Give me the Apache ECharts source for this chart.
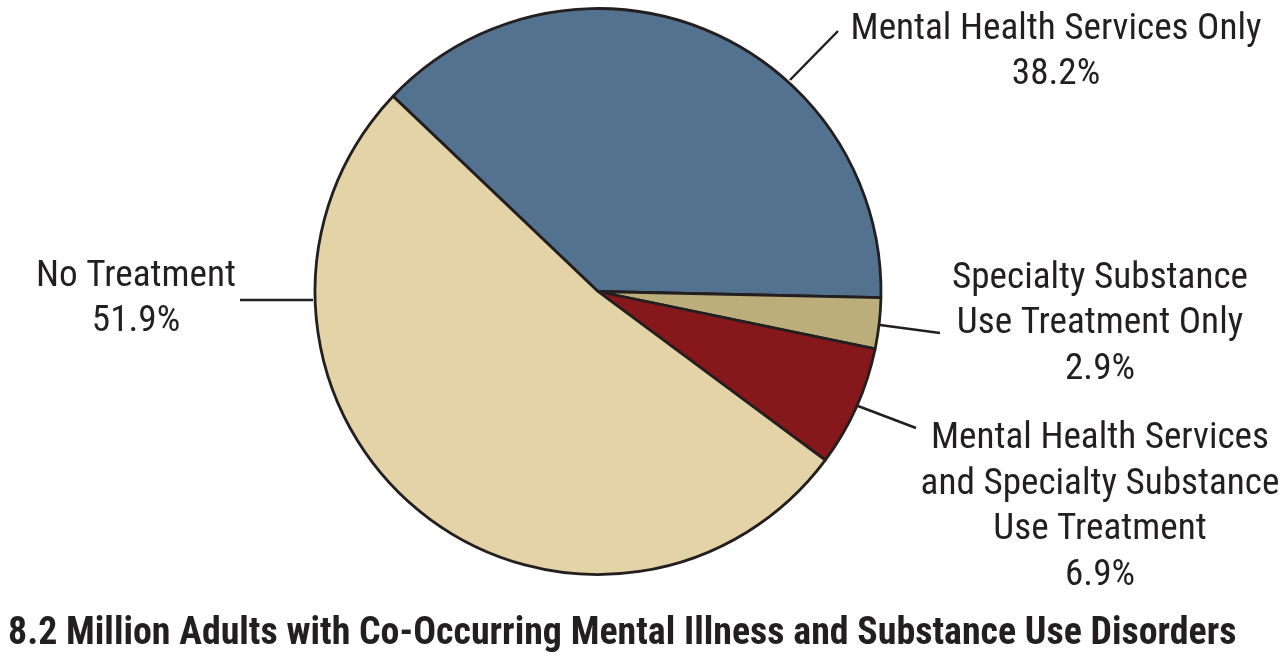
<!DOCTYPE html>
<html>
<head>
<meta charset="utf-8">
<style>
  html, body { margin: 0; padding: 0; background: #ffffff; }
  #chart { width: 1287px; height: 659px; }
</style>
<script src="https://cdn.jsdelivr.net/npm/echarts@6/dist/echarts.min.js"></script>
</head>
<body>
<div id="chart"></div>
<script>
// ---- data ----
const categories = [
  'Mental Health Services Only',
  'Specialty Substance\nUse Treatment Only',
  'Mental Health Services\nand Specialty Substance\nUse Treatment',
  'No Treatment'
];
const values = [38.2, 2.9, 6.9, 51.9];
const colors = ['#52728f', '#bcae7a', '#86181c', '#e4d3a7'];
const chartTitle = '8.2 Million Adults with Co-Occurring Mental Illness and Substance Use Disorders';

// ---- label placement (annotation layout) ----
const labelCenters = [[1056, 52], [1100, 324], [1100, 507], [136, 299]];
const labelLines = [
  [[790, 80], [838, 31]],
  [[880, 325], [940, 333]],
  [[858, 406], [916, 428]],
  [[313, 300], [240, 300]]
];

// ---- font selection: pick first installed condensed family ----
const ctx = document.createElement('canvas').getContext('2d');
function w(font, s) { ctx.font = font; return ctx.measureText(s).width; }
const probe = 'Mental Health Services Only abcdefghijklmnopqrstuvwxyz';
const candidates = ['Roboto Condensed', 'Liberation Sans Narrow', 'Arial Narrow', 'Nimbus Sans Narrow', 'DejaVu Sans Condensed'];
let family = 'DejaVu Sans Condensed';
for (const c of candidates) {
  const a = w('40px "' + c + '", monospace', probe);
  const b = w('40px monospace', probe);
  if (Math.abs(a - b) > 1) { family = c; break; }
}
const FONT = '"' + family + '", sans-serif';
// size fonts so text widths match the reference
const labelSize = Math.min(38, 37 * 411 / w('37px ' + FONT, 'Mental Health Services Only'));
const titleSize = Math.min(38, 38 * 1229 / w('bold 38px ' + FONT, chartTitle));

const chart = echarts.init(document.getElementById('chart'), null, { renderer: 'canvas' });
chart.setOption({
  backgroundColor: '#ffffff',
  animation: false,
  title: {
    text: chartTitle,
    left: 3,
    top: 611,
    textStyle: { fontFamily: FONT, fontWeight: 'bold', fontSize: titleSize, color: '#231f20' }
  },
  series: [{
    type: 'pie',
    center: [598, 291.5],
    radius: 283,
    startAngle: 136.4,
    clockwise: true,
    avoidLabelOverlap: false,
    itemStyle: { borderColor: '#231f20', borderWidth: 2.8 },
    label: {
      show: true,
      position: 'outside',
      fontFamily: FONT,
      fontSize: labelSize,
      lineHeight: 45.5,
      color: '#231f20',
      align: 'center',
      formatter: p => p.name + '\n' + p.value.toFixed(1) + '%'
    },
    labelLine: { show: true, lineStyle: { color: '#231f20', width: 2.5 } },
    labelLayout: function (params) {
      const i = params.dataIndex;
      const c = labelCenters[i];
      return {
        x: c[0], y: c[1], align: 'center', verticalAlign: 'middle',
        labelLinePoints: [labelLines[i][0], labelLines[i][1], labelLines[i][1]]
      };
    },
    data: categories.map((n, i) => ({ name: n, value: values[i], itemStyle: { color: colors[i] } }))
  }]
});
</script>
</body>
</html>
